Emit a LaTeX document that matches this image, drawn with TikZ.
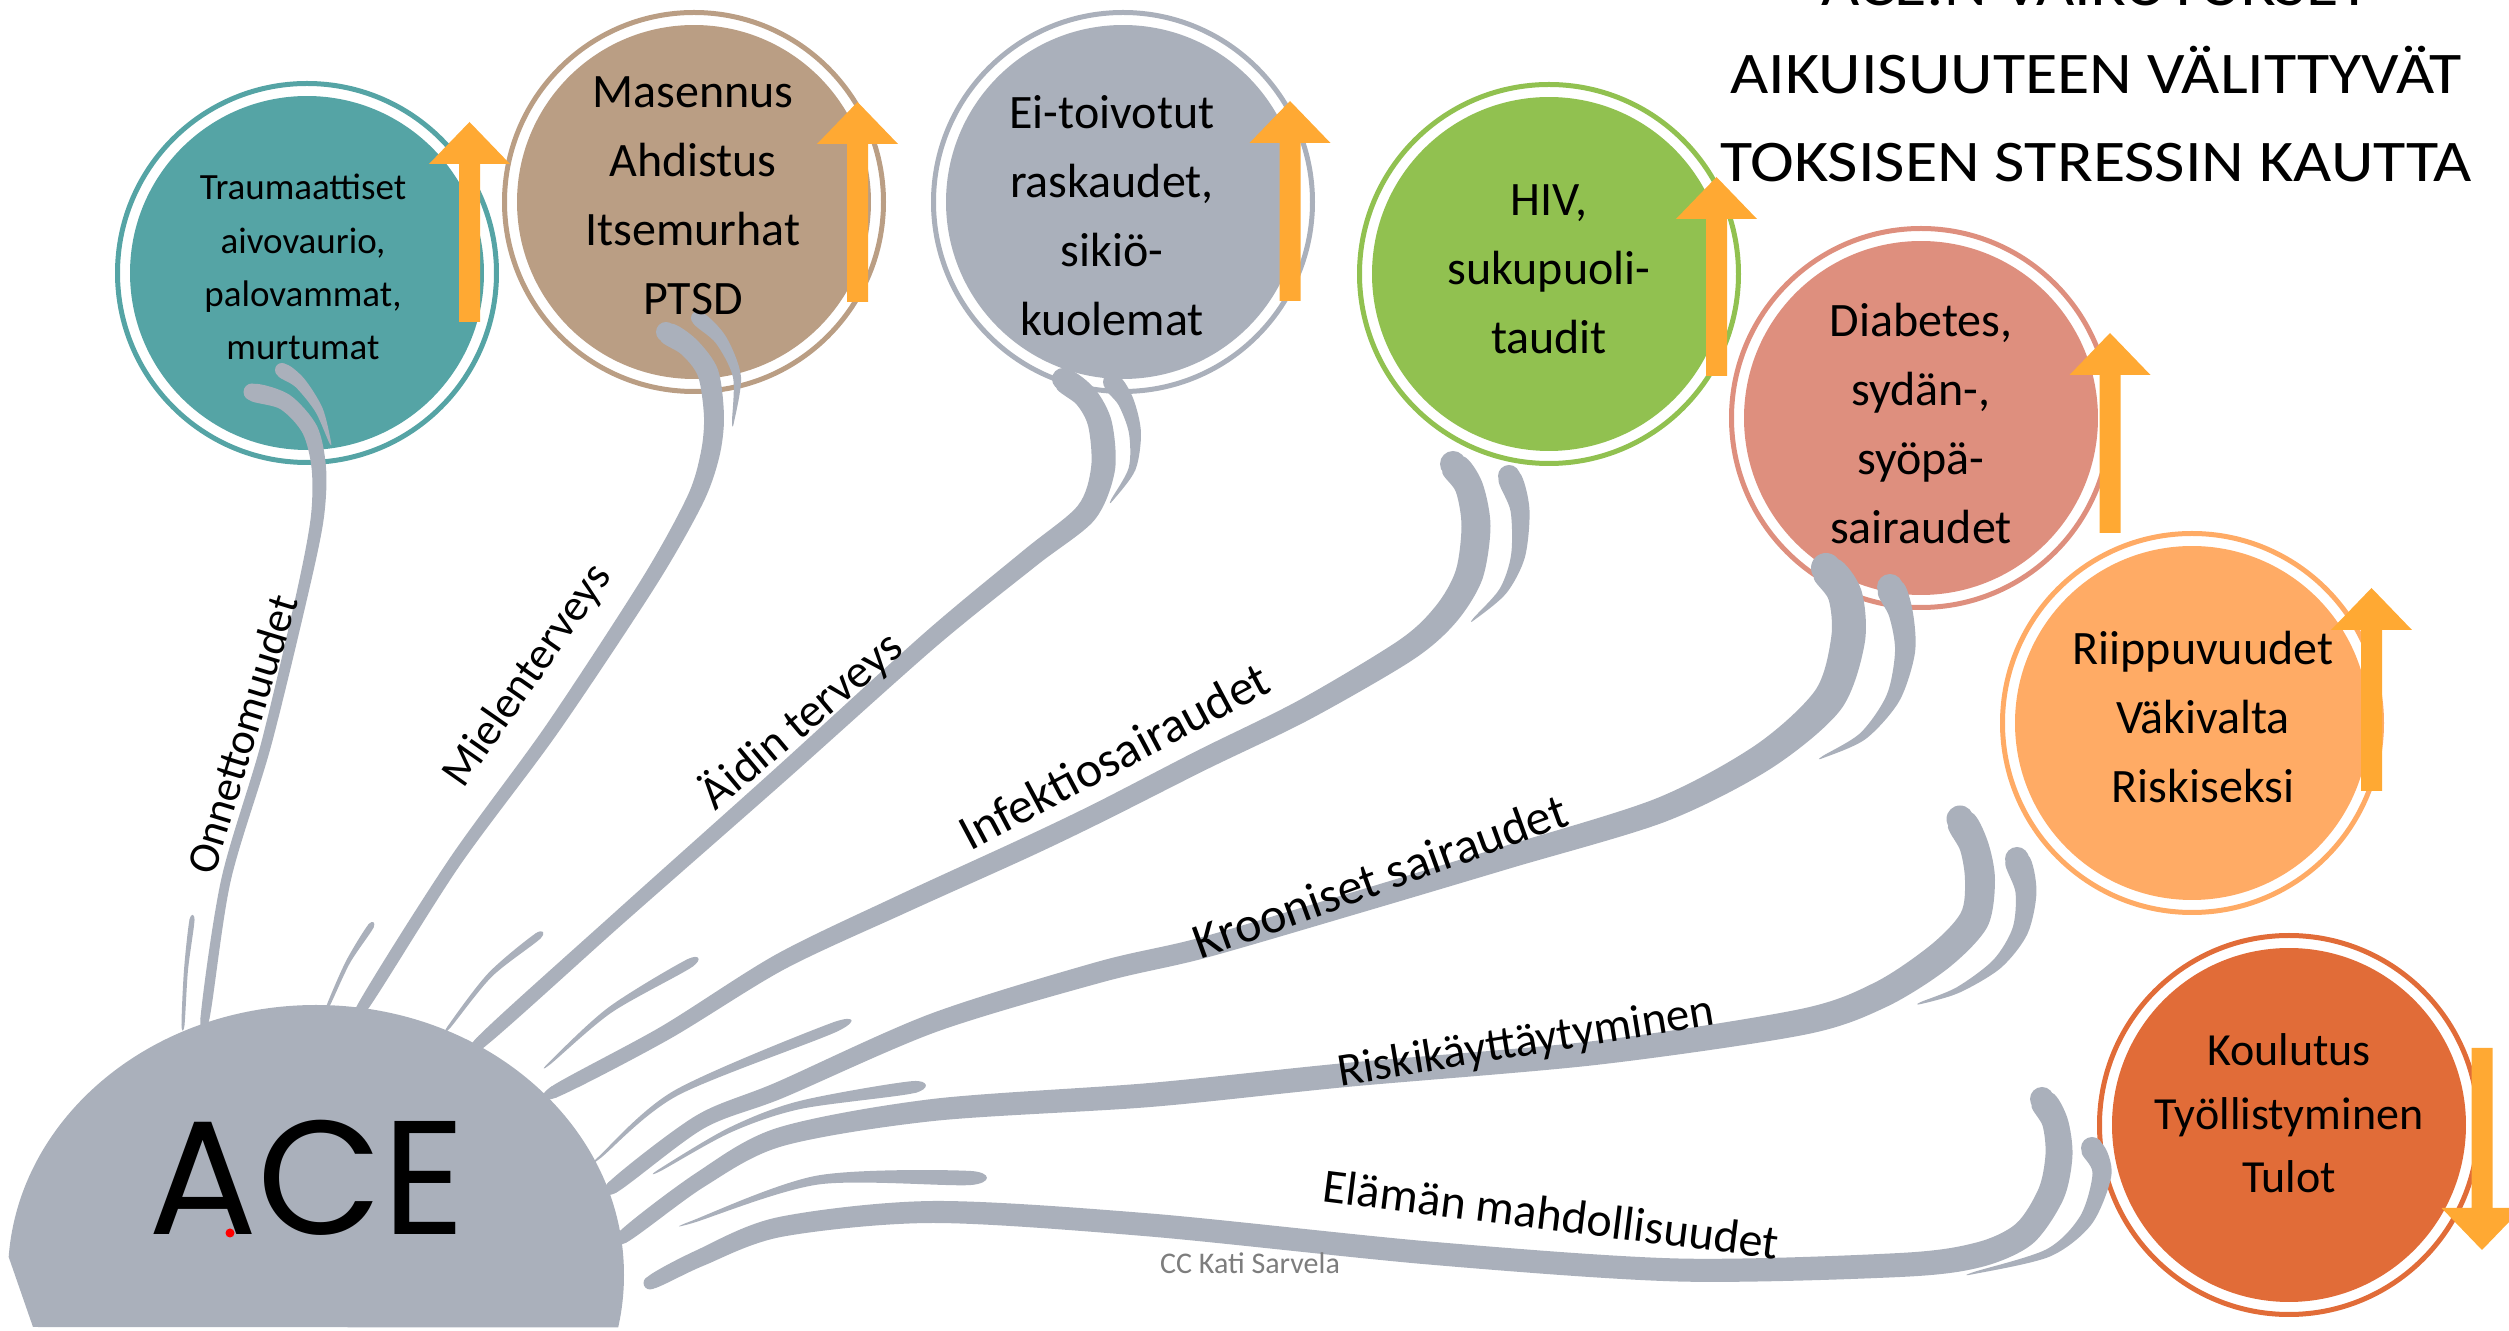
\documentclass[tikz,border=0pt]{standalone}
\usepackage{fontspec}
\usepackage{graphicx}
\setmainfont{Carlito}
\newfontfamily\acefont{Poppins}
\usetikzlibrary{calc}
\definecolor{cteal}{RGB}{85,164,165}
\definecolor{cbrown}{RGB}{186,158,132}
\definecolor{cgray}{RGB}{170,176,187}
\definecolor{cgreen}{RGB}{145,193,80}
\definecolor{csalmon}{RGB}{222,143,126}
\definecolor{clorange}{RGB}{255,171,101}
\definecolor{cdorange}{RGB}{225,108,56}
\definecolor{carrow}{RGB}{255,169,51}
\definecolor{cbranch}{RGB}{170,176,187}
\definecolor{ccgray}{RGB}{125,125,125}
% 1 unit = 1 pixel of the reference = 0.1pt
\newcommand\fs[2]{\fontsize{#1}{#2}\selectfont}
\newcommand\cstack[1]{\begin{tabular}[t]{@{}c@{}}#1\end{tabular}}
\newcommand\uparr[3]{\fill[carrow] (#1-10.5,#3) -- (#1-10.5,#2+42) -- (#1-40.5,#2+42) -- (#1,#2) -- (#1+40.5,#2+42) -- (#1+10.5,#2+42) -- (#1+10.5,#3) -- cycle;}
\newcommand\downarr[3]{\fill[carrow] (#1-10.5,#3) -- (#1-10.5,#2-42) -- (#1-40.5,#2-42) -- (#1,#2) -- (#1+40.5,#2-42) -- (#1+10.5,#2-42) -- (#1+10.5,#3) -- cycle;}
\newcommand\bubble[4]{%
  \draw[#4, line width=0.5pt] (#2,#3) circle (189.5);
  \node[circle, inner sep=0pt, minimum size=35.4pt, fill=#4] (#1) at (#2,#3) {};}
% tapered branch: #1 id, #2 list of x/y/halfwidth
\newcommand\branch[2]{%
  \foreach \px/\py/\pr [count=\i] in {#2} {%
    \coordinate (#1p\i) at (\px,\py);
    \expandafter\xdef\csname #1r\i\endcsname{\pr}%
    \xdef\bn{\i}%
  }%
  \foreach \i in {1,...,\bn} {%
    \pgfmathtruncatemacro\ip{max(1,\i-1)}%
    \pgfmathtruncatemacro\inx{min(\bn,\i+1)}%
    \pgfmathsetmacro\dd{0.1*\csname #1r\i\endcsname}%
    \coordinate (#1q) at ($(#1p\ip)!\dd pt!90:(#1p\inx)$);
    \coordinate (#1L\i) at ($(#1p\i)+(#1q)-(#1p\ip)$);
    \coordinate (#1q) at ($(#1p\ip)!\dd pt!-90:(#1p\inx)$);
    \coordinate (#1R\i) at ($(#1p\i)+(#1q)-(#1p\ip)$);
  }%
  \gdef\plist{}%
  \foreach \i in {1,...,\bn} {\xdef\plist{\plist (#1L\i)}}%
  \foreach \i in {\bn,...,1} {\xdef\plist{\plist (#1R\i)}}%
  \edef\tmp{\noexpand\fill[cbranch] plot[smooth cycle, tension=0.5] coordinates {\plist};}\tmp
  \pgfmathsetmacro\dd{\csname #1r1\endcsname}%
  \fill[cbranch] (#1p1) circle (\dd);
  \pgfmathsetmacro\dd{\csname #1r\bn\endcsname}%
  \fill[cbranch] (#1p\bn) circle (\dd);
}
\tikzset{
  ctext/.style={anchor=base, font=\fs{4.8}{6.9}},
  lbl/.style={font=\fs{#1}{#1}},
}
\begin{document}
\begin{tikzpicture}[x=0.1pt,y=-0.1pt]
\useasboundingbox (0,0) rectangle (2509,1331);
\clip (0,0) rectangle (2509,1331);
% ACE blob
\begin{scope}
\clip (0,0) -- (2509,0) -- (2509,1329) -- (33,1327) -- (8,1255) -- cycle;
\fill[cbranch] (316,1275) ellipse [x radius=308, y radius=270];
\end{scope}
% circles
\bubble{teal}{307}{273}{cteal}
\bubble{brown}{694}{202}{cbrown}
\bubble{grayc}{1123}{202}{cgray}
\bubble{green}{1549}{274}{cgreen}
\bubble{salmon}{1921}{418}{csalmon}
\bubble{lorange}{2192}{723}{clorange}
\bubble{dorange}{2289}{1125}{cdorange}
% main branches
\branch{ba}{205/1018/4.5, 226/880/4.8, 266/745/5.2, 302/595/5.8, 317/520/6.5, 319/470/7.2, 310/430/8, 285/402/8.5, 252/392/8.5}
\branch{bb}{362/1008/5.5, 454/863/6.2, 552/729/7, 649/582/7.8, 695/500/8.5, 710/455/9.5, 714/417/10, 708/373/10.5, 689/347/10.5, 666/332/10}
\branch{bc}{481/1042/6, 620/917/7, 780/775/8, 930/640/9, 1030/558/10, 1086/513/11, 1103/469/12, 1100/424/12, 1086/397/12, 1063/379/11}
\branch{bd}{554/1092/6, 665/1033/7.5, 780/962/8.5, 900/905/9.5, 1025/848/10, 1100/812/10, 1202/760/10.5, 1304/710/11, 1406/650/12, 1446/614/13, 1469/575/14, 1476/526/14.5, 1469/487/14, 1453/464/13}
\branch{be}{613/1187/6.5, 700/1122/7.5, 780/1090/8.5, 933/1023/9.5, 1100/972/10.5, 1202/948/10.5, 1355/903/11, 1508/857/11.5, 1661/810/12.5, 1763/757/14, 1828/700/16, 1848/640/17, 1845/595/17, 1826/568/15}
\branch{bf}{623/1237/6.5, 700/1180/8, 780/1137/9.5, 933/1110/11, 1150/1095/12, 1346/1075/12, 1595/1053/12, 1802/1022/13, 1880/995/13.5, 1939/957/14.5, 1974/920/15, 1980/880/15, 1974/846/14.5, 1960/819/13.5}
\branch{bg}{650/1283/6.5, 700/1258/8.5, 780/1227/10, 933/1212/11, 1150/1225/11.5, 1429/1253/11.5, 1678/1270/11.5, 1900/1265/12, 1978/1255/12.5, 2024/1234/13, 2051/1194/13.5, 2059/1155/13.5, 2055/1122/13, 2042/1099/12}
% whiskers at the circles
\branch{wa}{282/370/7, 300/383/6, 319/410/4, 330/442/1}
\branch{wb}{698/318/7, 721/340/6, 737/377/4, 733/422/1}
\branch{wc}{1112/382/9, 1126/402/8, 1135/433/6, 1132/469/3.5, 1112/500/1}
\branch{wd}{1509/476/11, 1520/510/9.5, 1518/556/7, 1503/591/4, 1474/619/1}
\branch{we}{1890/587/13, 1901/614/12, 1905/652/10, 1893/698/7, 1863/736/4, 1823/757/1}
\branch{wf}{2017/859/12, 2026/892/10.5, 2020/931/8, 1997/964/5.5, 1958/990/3, 1921/1003/1}
\branch{wg}{2092/1148/11, 2102/1174/9.5, 2086/1220/7, 2048/1253/4, 1974/1273/1}
% whiskers at the blob
\branch{va}{192/920/2.5, 186/970/2, 183/1025/1.5}
\branch{vb}{371/926/3, 348/962/2.2, 328/1006/1.5}
\branch{vc}{538/936/3.5, 490/975/2.5, 449/1027/1.5}
\branch{vd}{690/963/4.5, 610/1010/3, 550/1063/1.2}
\branch{ve}{835/1027/5, 676/1093/3, 600/1157/1.2}
\branch{vf}{914/1087/6, 800/1105/4, 730/1130/2.5, 660/1170/1.2}
\branch{vg}{971/1178/7, 818/1180/4.5, 692/1222/1.2}
% arrows
\uparr{469.5}{122}{322}
\uparr{857.5}{102}{302}
\uparr{1290}{101}{301}
\uparr{1716.5}{177}{376}
\uparr{2110}{333}{533}
\uparr{2371.5}{588}{791}
\downarr{2482}{1250}{1048}
% circle texts
\node[anchor=base, font=\fs{3.7}{5.33}] (tteal) at (303,200) {\cstack{Traumaattiset\\aivovaurio,\\palovammat,\\murtumat}};
\node[ctext] (tbrown) at (693,108) {\cstack{Masennus\\Ahdistus\\Itsemurhat\\PTSD}};
\node[ctext] (tgray) at (1112,129) {\cstack{Ei-toivotut\\raskaudet,\\sikiö-\\kuolemat}};
\node[ctext] (tgreen) at (1549,216) {\cstack{HIV,\\sukupuoli-\\taudit}};
\node[ctext] (tsalmon) at (1921,337) {\cstack{Diabetes,\\sydän-,\\syöpä-\\sairaudet}};
\node[anchor=base, font=\fs{4.8}{6.9}] (tlorange) at (2203,665) {\cstack{Riippuvuudet\\Väkivalta\\Riskiseksi}};
\node[anchor=base, font=\fs{4.6}{6.35}] (tdorange) at (2289,1066) {\cstack{Koulutus\\Työllistyminen\\Tulot}};
% branch labels
\node[lbl=4.4, rotate=73] (lonn) at (242,734) {Onnettomuudet};
\node[lbl=4.5, rotate=55] (lmiel) at (528,676) {Mielenterveys};
\node[lbl=4.7, rotate=40] (laid) at (801,720) {Äidin terveys};
\node[lbl=5.0, rotate=28] (linf) at (1114,756) {Infektiosairaudet};
\node[lbl=5.0, rotate=20] (lkroo) at (1380,876) {Krooniset sairaudet};
\node[lbl=4.7, rotate=9.3] (lrisk) at (1526,1043) {Riskikäyttäytyminen};
\node[lbl=4.8, rotate=-7.2] (lelam) at (1551,1214) {Elämän mahdollisuudet};
% ACE
\node[anchor=base, font=\acefont\fs{16.2}{17}] (ace) at (307,1235) {ACE};
\fill[red] (230,1233) circle (4.5);
% credit
\node[anchor=base, text=ccgray, font=\fs{3.0}{3.6}] (cc) at (1250,1274) {CC Kati Sarvela};
% title
\node[anchor=base, font=\fs{5.9}{8.8}] (title) at (2096,6) {\scalebox{1.12}[1]{\cstack{ACE:N VAIKUTUKSET\\AIKUISUUTEEN VÄLITTYVÄT\\TOKSISEN STRESSIN KAUTTA}}};
\end{tikzpicture}
\end{document}
